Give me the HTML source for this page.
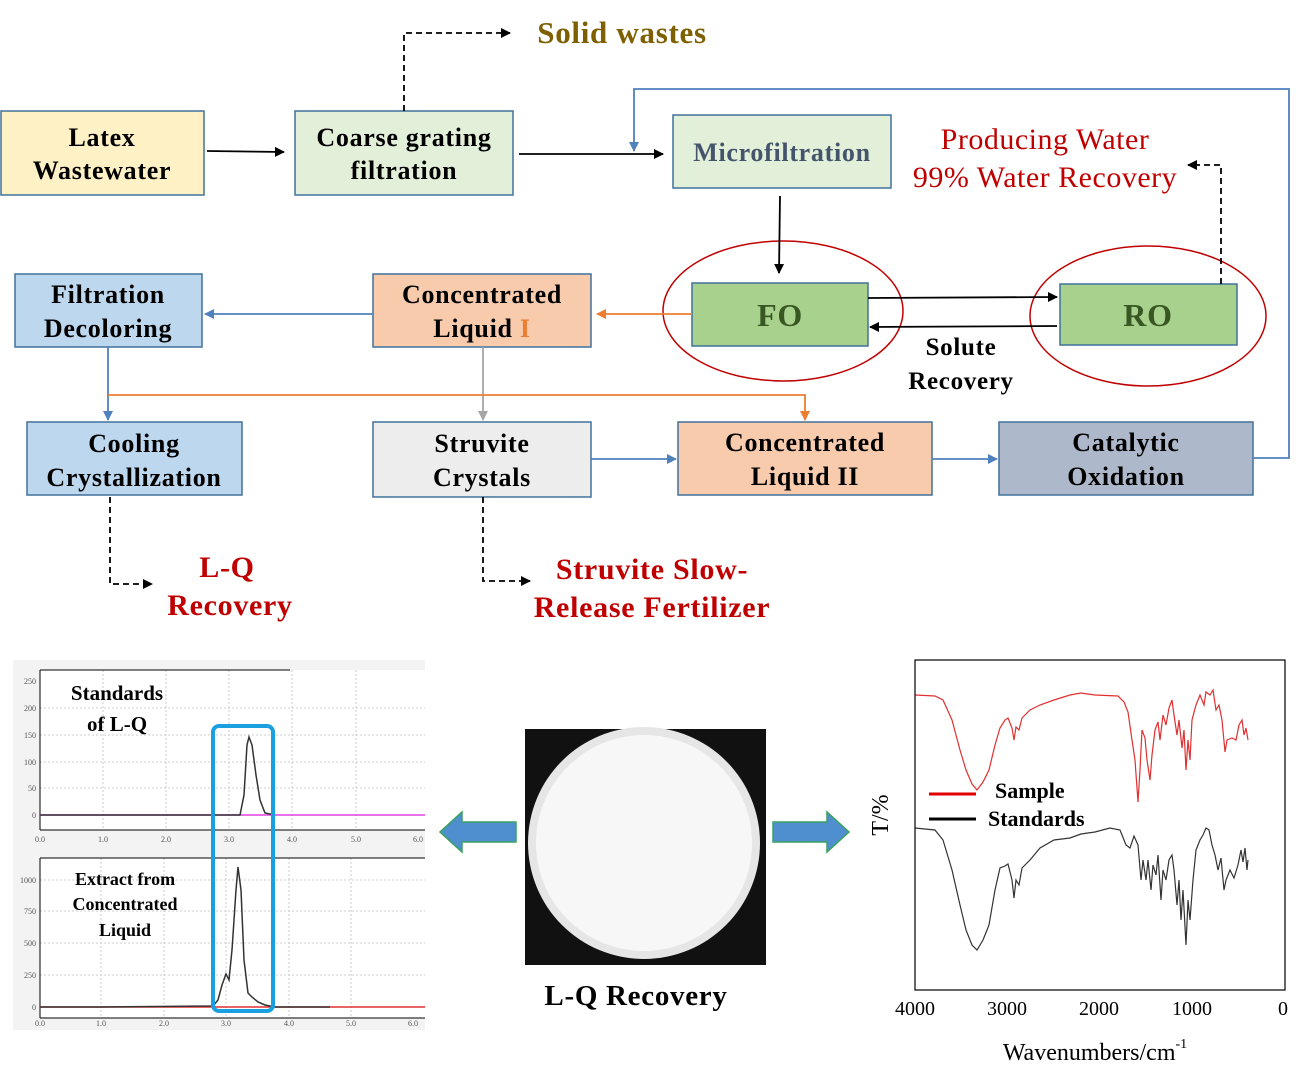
<!DOCTYPE html>
<html><head><meta charset="utf-8"><style>
html,body{margin:0;padding:0;background:#fff;}
svg{display:block;}
text{font-family:"Liberation Serif",serif;}
</style></head><body>
<svg width="1300" height="1073" viewBox="0 0 1300 1073" xmlns="http://www.w3.org/2000/svg">
<defs>
<marker id="ak" markerWidth="10" markerHeight="10" refX="9" refY="5" orient="auto" markerUnits="userSpaceOnUse"><path d="M0,0 L10,5 L0,10 z" fill="#000"/></marker>
<marker id="ab" markerWidth="10" markerHeight="10" refX="9" refY="5" orient="auto" markerUnits="userSpaceOnUse"><path d="M0,0 L10,5 L0,10 z" fill="#4f81bd"/></marker>
<marker id="ao" markerWidth="10" markerHeight="10" refX="9" refY="5" orient="auto" markerUnits="userSpaceOnUse"><path d="M0,0 L10,5 L0,10 z" fill="#ed7d31"/></marker>
<marker id="ag" markerWidth="10" markerHeight="10" refX="9" refY="5" orient="auto" markerUnits="userSpaceOnUse"><path d="M0,0 L10,5 L0,10 z" fill="#a5a5a5"/></marker>
</defs>
<g stroke="#41719c" stroke-width="1.5">
<rect x="1" y="111" width="203" height="84" fill="#fdf1c5"/>
<rect x="295" y="111" width="218" height="84" fill="#e2efd9"/>
<rect x="673" y="115" width="218" height="73" fill="#e2efd9"/>
<rect x="692" y="283" width="176" height="63" fill="#a9d18e"/>
<rect x="1060" y="284" width="177" height="61" fill="#a9d18e"/>
<rect x="15" y="274" width="187" height="73" fill="#bdd7ee"/>
<rect x="373" y="274" width="218" height="73" fill="#f8cbad"/>
<rect x="27" y="422" width="215" height="73" fill="#bdd7ee"/>
<rect x="373" y="422" width="218" height="75" fill="#ededed"/>
<rect x="678" y="422" width="254" height="73" fill="#f8cbad"/>
<rect x="999" y="422" width="254" height="73" fill="#adb9ca"/>
</g>
<ellipse cx="783" cy="311" rx="120" ry="70" fill="none" stroke="#c00000" stroke-width="1.5"/>
<ellipse cx="1148" cy="316" rx="118" ry="70" fill="none" stroke="#c00000" stroke-width="1.5"/>
<g font-weight="bold" font-size="26" text-anchor="middle" fill="#000" letter-spacing="0.7">
<text x="102" y="146">Latex</text><text x="102" y="179">Wastewater</text>
<text x="404" y="146">Coarse grating</text><text x="404" y="179">filtration</text>
<text x="782" y="161" fill="#44546a">Microfiltration</text>
<text x="780" y="326" font-size="32" fill="#385723">FO</text>
<text x="1148" y="326" font-size="32" fill="#385723">RO</text>
<text x="108" y="303">Filtration</text><text x="108" y="337">Decoloring</text>
<text x="482" y="303">Concentrated</text><text x="482" y="337">Liquid <tspan fill="#ed7d31">I</tspan></text>
<text x="134" y="452">Cooling</text><text x="134" y="486">Crystallization</text>
<text x="482" y="452">Struvite</text><text x="482" y="486">Crystals</text>
<text x="805" y="451">Concentrated</text><text x="805" y="485">Liquid II</text>
<text x="1126" y="451">Catalytic</text><text x="1126" y="485">Oxidation</text>
<text x="961" y="355" font-size="25">Solute</text><text x="961" y="389" font-size="25">Recovery</text>
<text x="622" y="43" font-size="31" fill="#7f6000">Solid wastes</text>
<text x="227" y="577" font-size="30" fill="#c00000">L-Q</text>
<text x="230" y="615" font-size="30" fill="#c00000">Recovery</text>
<text x="652" y="579" font-size="30" fill="#c00000">Struvite Slow-</text>
<text x="652" y="617" font-size="30" fill="#c00000">Release Fertilizer</text>
<text x="636" y="1005" font-size="29">L-Q Recovery</text>
</g>
<g font-size="30" text-anchor="middle" fill="#c00000" letter-spacing="0.5">
<text x="1045" y="149">Producing Water</text>
<text x="1045" y="187">99% Water Recovery</text>
</g>
<g fill="none" stroke-width="1.8">
<line x1="207" y1="151" x2="284" y2="152" stroke="#000" marker-end="url(#ak)"/>
<line x1="519" y1="154" x2="663" y2="154" stroke="#000" marker-end="url(#ak)"/>
<polyline points="404,111 404,33 510,33" stroke="#000" stroke-dasharray="6,4" marker-end="url(#ak)"/>
<polyline points="1253,458 1289,458 1289,89 634,89 634,151" stroke="#4f81bd" marker-end="url(#ab)"/>
<line x1="780" y1="196" x2="779" y2="273" stroke="#000" marker-end="url(#ak)"/>
<line x1="868" y1="298" x2="1057" y2="297" stroke="#000" marker-end="url(#ak)"/>
<line x1="1057" y1="326" x2="870" y2="327" stroke="#000" marker-end="url(#ak)"/>
<polyline points="1221,284 1221,165 1188,165" stroke="#000" stroke-dasharray="6,4" marker-end="url(#ak)"/>
<line x1="692" y1="314" x2="597" y2="314" stroke="#ed7d31" marker-end="url(#ao)"/>
<line x1="373" y1="314" x2="205" y2="314" stroke="#4f81bd" marker-end="url(#ab)"/>
<line x1="483" y1="347" x2="483" y2="420" stroke="#a5a5a5" marker-end="url(#ag)"/>
<line x1="108" y1="347" x2="108" y2="420" stroke="#4f81bd" marker-end="url(#ab)"/>
<polyline points="108,395 805,395 805,420" stroke="#ed7d31" marker-end="url(#ao)"/>
<line x1="591" y1="459" x2="676" y2="459" stroke="#4f81bd" marker-end="url(#ab)"/>
<line x1="932" y1="459" x2="997" y2="459" stroke="#4f81bd" marker-end="url(#ab)"/>
<polyline points="110,497 110,584 152,584" stroke="#000" stroke-dasharray="6,4" marker-end="url(#ak)"/>
<polyline points="483,497 483,581 530,581" stroke="#000" stroke-dasharray="6,4" marker-end="url(#ak)"/>
</g>
<rect x="13" y="660" width="412" height="188" fill="#f3f3f3"/>
<rect x="40" y="670" width="385" height="160" fill="#fff"/>
<rect x="13" y="848" width="412" height="182" fill="#f3f3f3"/>
<rect x="40" y="858" width="385" height="160" fill="#fff"/>
<g stroke="#ccc" stroke-dasharray="2,2" stroke-width="1">
<line x1="103" y1="670" x2="103" y2="830"/><line x1="166" y1="670" x2="166" y2="830"/><line x1="229" y1="670" x2="229" y2="830"/><line x1="292" y1="670" x2="292" y2="830"/><line x1="356" y1="670" x2="356" y2="830"/>
<line x1="40" y1="708" x2="425" y2="708"/><line x1="40" y1="735" x2="425" y2="735"/><line x1="40" y1="762" x2="425" y2="762"/><line x1="40" y1="788" x2="425" y2="788"/>
<line x1="101" y1="858" x2="101" y2="1018"/><line x1="164" y1="858" x2="164" y2="1018"/><line x1="226" y1="858" x2="226" y2="1018"/><line x1="289" y1="858" x2="289" y2="1018"/><line x1="351" y1="858" x2="351" y2="1018"/>
<line x1="40" y1="880" x2="425" y2="880"/><line x1="40" y1="911" x2="425" y2="911"/><line x1="40" y1="943" x2="425" y2="943"/><line x1="40" y1="975" x2="425" y2="975"/>
</g>
<g stroke="#000" stroke-width="1" fill="none">
<line x1="40" y1="670" x2="40" y2="830"/><line x1="40" y1="830" x2="425" y2="830"/><line x1="40" y1="670" x2="290" y2="670"/>
<line x1="40" y1="858" x2="40" y2="1018"/><line x1="40" y1="1018" x2="425" y2="1018"/><line x1="40" y1="858" x2="425" y2="858"/>
</g>
<line x1="40" y1="815" x2="425" y2="815" stroke="#e040e0" stroke-width="1.5"/>
<line x1="40" y1="1007" x2="425" y2="1007" stroke="#e03030" stroke-width="1.5"/>
<polyline points="40,815 240,815 244,795 247,745 249,737 252,745 256,775 260,800 265,813 275,815" fill="none" stroke="#333" stroke-width="1.5"/>
<polyline points="40,1007 100,1007 213,1006 218,1000 222,985 226,974 229,980 232,950 236,890 238,867 241,890 244,960 248,993 252,997 258,1002 265,1005 275,1007 330,1007" fill="none" stroke="#333" stroke-width="1.5"/>
<g font-family="Liberation Sans" font-size="8" fill="#555" text-anchor="end">
<text x="36" y="684">250</text><text x="36" y="711">200</text><text x="36" y="738">150</text><text x="36" y="765">100</text><text x="36" y="791">50</text><text x="36" y="818">0</text>
<text x="36" y="883">1000</text><text x="36" y="914">750</text><text x="36" y="946">500</text><text x="36" y="978">250</text><text x="36" y="1010">0</text>
</g>
<g font-family="Liberation Sans" font-size="8" fill="#555" text-anchor="middle">
<text x="40" y="842">0.0</text><text x="103" y="842">1.0</text><text x="166" y="842">2.0</text><text x="229" y="842">3.0</text><text x="292" y="842">4.0</text><text x="356" y="842">5.0</text><text x="418" y="842">6.0</text>
<text x="40" y="1026">0.0</text><text x="101" y="1026">1.0</text><text x="164" y="1026">2.0</text><text x="226" y="1026">3.0</text><text x="289" y="1026">4.0</text><text x="351" y="1026">5.0</text><text x="413" y="1026">6.0</text>
</g>
<g font-weight="bold" text-anchor="middle" fill="#000">
<text x="117" y="700" font-size="21">Standards</text><text x="117" y="731" font-size="21">of L-Q</text>
<text x="125" y="885" font-size="18">Extract from</text><text x="125" y="910" font-size="18">Concentrated</text><text x="125" y="936" font-size="18">Liquid</text>
</g>
<rect x="213" y="726" width="60" height="285" rx="6" fill="none" stroke="#1aa0e0" stroke-width="4"/>
<path d="M516,822 L462,822 L462,812 L440,832 L462,852 L462,842 L516,842 z" fill="#4f8fd0" stroke="#3aa060" stroke-width="1.5"/>
<path d="M773,822 L827,822 L827,812 L849,832 L827,852 L827,842 L773,842 z" fill="#4f8fd0" stroke="#3aa060" stroke-width="1.5"/>
<rect x="525" y="729" width="241" height="236" fill="#111"/>
<circle cx="644" cy="843" r="116" fill="#e6e6e6"/>
<circle cx="644" cy="843" r="108" fill="#f7f7f7"/>
<polyline fill="none" stroke="#e03030" stroke-width="1.2" points="915,695 935,696 943,700 952,720 960,750 966,770 972,784 977,790 983,782 989,770 995,745 1000,728 1005,720 1008,718 1012,728 1014,740 1016,727 1019,730 1022,718 1030,710 1040,705 1054,700 1070,695 1081,693 1095,695 1118,696 1124,702 1128,712 1132,740 1135,760 1138,802 1140,770 1142,730 1145,738 1147,760 1150,780 1152,755 1155,730 1158,722 1160,740 1163,715 1166,725 1169,708 1172,700 1174,715 1177,735 1179,720 1182,748 1184,730 1186,770 1188,740 1190,760 1192,720 1196,705 1200,695 1204,705 1206,692 1210,695 1213,690 1216,710 1219,705 1222,720 1225,752 1227,740 1232,738 1236,740 1239,725 1242,720 1244,735 1246,728 1248,740"/>
<polyline fill="none" stroke="#333" stroke-width="1.2" points="915,828 935,830 943,840 952,870 960,905 966,930 972,945 977,950 983,940 989,925 995,890 1000,868 1005,866 1008,864 1012,880 1014,898 1016,880 1019,885 1022,868 1030,860 1040,848 1054,840 1070,838 1081,834 1095,832 1110,828 1120,830 1126,845 1130,848 1134,836 1138,845 1141,880 1143,860 1146,880 1148,860 1151,890 1153,865 1156,875 1158,855 1161,900 1163,870 1166,880 1169,860 1172,855 1174,870 1177,905 1179,880 1181,920 1183,890 1186,945 1188,900 1190,920 1193,880 1196,850 1200,840 1203,835 1206,828 1209,830 1212,845 1215,855 1218,870 1221,858 1224,890 1226,880 1230,870 1234,878 1238,865 1241,850 1243,862 1245,848 1247,870 1248,860"/>
<rect x="915" y="660" width="370" height="330" fill="none" stroke="#000" stroke-width="1.2"/>
<line x1="929" y1="794" x2="976" y2="794" stroke="#e00000" stroke-width="3"/>
<line x1="929" y1="819" x2="976" y2="819" stroke="#000" stroke-width="3"/>
<g font-weight="bold" font-size="22" fill="#000">
<text x="995" y="798">Sample</text><text x="988" y="826">Standards</text>
</g>
<g font-size="20" text-anchor="middle" fill="#000">
<text x="915" y="1015">4000</text><text x="1007" y="1015">3000</text><text x="1099" y="1015">2000</text><text x="1192" y="1015">1000</text><text x="1283" y="1015">0</text>
<text x="1095" y="1060" font-size="24">Wavenumbers/cm<tspan font-size="14" dy="-12">-1</tspan></text>
<text transform="translate(888,815) rotate(-90)" font-size="24">T/%</text>
</g>
</svg>
</body></html>
